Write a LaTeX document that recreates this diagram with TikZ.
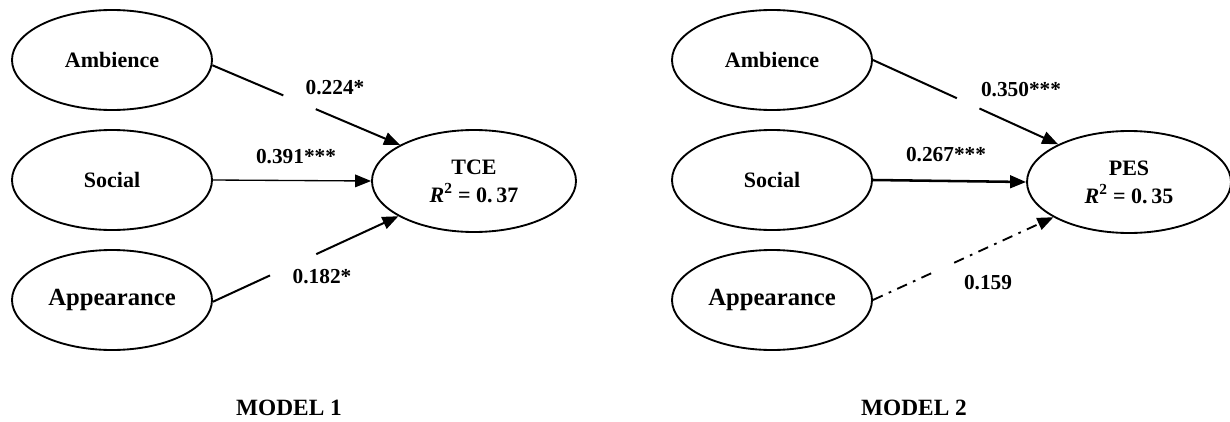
\documentclass[tikz,border=0pt]{standalone}
\usepackage{fontspec}
\setmainfont{Liberation Serif}
\usetikzlibrary{arrows.meta,shapes.geometric}
\begin{document}
\begin{tikzpicture}[x=0.75pt,y=-0.75pt,
  latent/.style={draw, ellipse, line width=1.4pt, minimum width=150pt, minimum height=75pt,
    inner sep=0pt, font=\bfseries\fontsize{16.5}{18}\selectfont},
  bigtext/.style={font=\bfseries\fontsize{18.5}{20}\selectfont},
  outcome/.style={draw, ellipse, line width=1.4pt, minimum width=153pt, minimum height=76.5pt,
    inner sep=0pt, align=center, font=\bfseries\fontsize{16.5}{21}\selectfont},
  coef/.style={font=\bfseries\fontsize{16}{18}\selectfont, inner sep=0pt},
  title/.style={font=\bfseries\fontsize{17.5}{20}\selectfont, inner sep=0pt},
  conn/.style={line width=1.5pt},
  thinconn/.style={line width=1pt},
  tip/.style={-{Triangle[length=12pt,width=9.5pt]}},
  dashdot/.style={line width=1.4pt, dash pattern=on 8pt off 5pt on 2pt off 5pt}]
\useasboundingbox (0,0) rectangle (1230,421);

% ---------- Model 1 ----------
\node[latent] (amb1) at (112,60) {Ambience};
\node[latent] (soc1) at (112,180) {Social};
\node[latent, bigtext] (app1) at (112,300) {Appearance};
\node[outcome] (tce) at (474,181) {TCE\\{\itshape R}\textsuperscript{2} = 0.\,37};

\path (amb1.-3) -- (tce.154) coordinate[pos=0.378] (a1g1) coordinate[pos=0.551] (a1g2);
\draw[conn] (amb1.-3) -- (a1g1);
\draw[conn,tip] (a1g2) -- (tce.154);

\draw[thinconn,tip] (soc1.east) -- (tce.west);

\path (app1.-1) -- (tce.205) coordinate[pos=0.308] (p1g1) coordinate[pos=0.557] (p1g2);
\draw[conn] (app1.-1) -- (p1g1);
\draw[conn,tip] (p1g2) -- (tce.205);

\node[coef] (c11) at (335,88) {0.224*};
\node[coef] (c12) at (296,157) {0.391***};
\node[coef] (c13) at (322,277) {0.182*};

\node[title] (m1) at (289,408) {MODEL 1};

% ---------- Model 2 ----------
\node[latent] (amb2) at (772,60) {Ambience};
\node[latent] (soc2) at (772,180) {Social};
\node[latent, bigtext] (app2) at (772,300) {Appearance};
\node[outcome] (pes) at (1129,182) {PES\\{\itshape R}\textsuperscript{2} = 0.\,35};

\path (amb2.east) -- (pes.152.5) coordinate[pos=0.453] (a2g1) coordinate[pos=0.575] (a2g2);
\draw[conn] (amb2.east) -- (a2g1);
\draw[conn,tip] (a2g2) -- (pes.152.5);

\draw[line width=1.9pt,tip] (soc2.east) -- (pes.west);

\path (app2.east) -- (pes.205) coordinate[pos=0.34] (p2g1) coordinate[pos=0.45] (p2g2);
\draw[dashdot] (app2.east) -- (p2g1);
\draw[dashdot,tip] (p2g2) -- (pes.205);

\node[coef] (c21) at (1021,90) {0.350***};
\node[coef] (c22) at (946,155) {0.267***};
\node[coef] (c23) at (988,283) {0.159};

\node[title] (m2) at (914,408) {MODEL 2};
\end{tikzpicture}
\end{document}
